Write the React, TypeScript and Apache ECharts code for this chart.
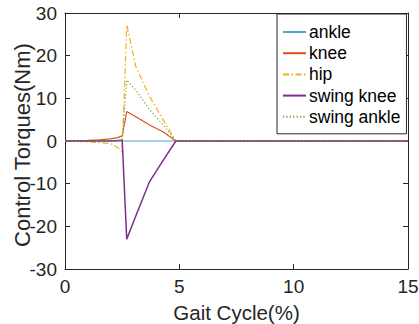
import React, { useEffect, useRef } from "react";
import * as echarts from "echarts";

const xs = [0, 1, 1.5, 2, 2.3, 2.5, 2.7, 3.1, 3.7, 4.3, 4.85, 15];
const ankle = [0, 0, 0, 0, 0, 0, 0, 0, 0, 0, 0, 0];
const knee = [0.1, 0.15, 0.25, 0.5, 0.8, 1.2, 6.9, 5.7, 3.75, 2.1, 0, 0];
const hip = [0, -0.2, -0.4, -0.6, -1.5, -2.5, 27.2, 17.4, 10.4, 4.9, 0, 0];
const swingKnee = [0, 0, 0, 0, 0.1, 0.2, -23, -17.5, -9.5, -4.5, 0, 0];
const swingAnkle = [0, 0, 0, 0, 0, 0.2, 14.3, 11.9, 7.3, 3.75, 0, 0];
const xTicks = [0, 5, 10, 15];
const yTicks = [-30, -20, -10, 0, 10, 20, 30];

const FONT = "Liberation Sans, Arial, sans-serif";
const AX = "#262626";

function pairs(v: number[]) {
  return xs.map((x, i) => [x, v[i]]);
}

export default function App() {
  const ref = useRef<HTMLDivElement>(null);
  useEffect(() => {
    const chart = echarts.init(ref.current!, undefined, { renderer: "svg" });
    const baseX = {
      type: "value" as const,
      min: xTicks[0],
      max: xTicks[xTicks.length - 1],
      interval: 5,
      splitLine: { show: false },
      axisLine: { show: true, onZero: false, lineStyle: { color: AX, width: 1 } },
      axisTick: { show: true, inside: true, length: 5, lineStyle: { color: AX } },
    };
    const baseY = {
      type: "value" as const,
      min: yTicks[0],
      max: yTicks[yTicks.length - 1],
      interval: 10,
      splitLine: { show: false },
      axisLine: { show: true, onZero: false, lineStyle: { color: AX, width: 1 } },
      axisTick: { show: true, inside: true, length: 5, lineStyle: { color: AX } },
    };
    const mk = (name: string, data: number[], color: string, type: any, width = 1.2) => ({
      name,
      type: "line",
      data: pairs(data),
      symbol: "none",
      showSymbol: false,
      xAxisIndex: 0,
      yAxisIndex: 0,
      lineStyle: { color, width, type },
      itemStyle: { color },
    });
    chart.setOption({
      animation: false,
      grid: {
        left: 65,
        top: 13,
        right: 11,
        bottom: 55,
        containLabel: false,
        outerBoundsMode: "none",
      },
      xAxis: [
        {
          ...baseX,
          position: "bottom",
          axisLabel: { show: true, color: AX, fontSize: 19, fontFamily: FONT, margin: 8 },
          name: "Gait Cycle(%)",
          nameLocation: "middle",
          nameGap: 33,
          nameMoveOverlap: false,
          nameTextStyle: { color: AX, fontSize: 20.5, fontFamily: FONT },
        },
        { ...baseX, position: "top", axisLabel: { show: false } },
      ],
      yAxis: [
        {
          ...baseY,
          position: "left",
          axisLabel: { show: true, color: AX, fontSize: 19, fontFamily: FONT, margin: 8 },
          name: "Control Torques(Nm)",
          nameLocation: "middle",
          nameGap: 32,
          nameMoveOverlap: false,
          nameTextStyle: { color: AX, fontSize: 22, fontFamily: FONT, padding: [0, 8, 0, 0] },
        },
        { ...baseY, position: "right", axisLabel: { show: false } },
      ],
      legend: {
        orient: "vertical",
        left: 277,
        top: 14,
        padding: [9, 6, 8, 5],
        itemWidth: 23,
        itemHeight: 18,
        itemGap: 3.2,
        itemStyle: { opacity: 0 },
        borderColor: "#262626",
        borderWidth: 1,
        backgroundColor: "#fff",
        textStyle: { color: "#000", fontSize: 17.5, fontFamily: FONT, padding: [0, 0, 0, -2] },
        data: ["ankle", "knee", "hip", "swing knee", "swing ankle"],
      },
      series: [
        mk("ankle", ankle, "#4da3dc", "solid"),
        mk("knee", knee, "#D95319", "solid"),
        mk("hip", hip, "#EDB120", [6, 2.5, 1.5, 2.5]),
        mk("swing knee", swingKnee, "#7E2F8E", "solid", 1.5),
        mk("swing ankle", swingAnkle, "#77AC30", [1.2, 2.2]),
      ],
    });
    return () => chart.dispose();
  }, []);
  return <div ref={ref} style={{ width: 419, height: 324, position: "absolute", left: 0, top: 0 }} />;
}
